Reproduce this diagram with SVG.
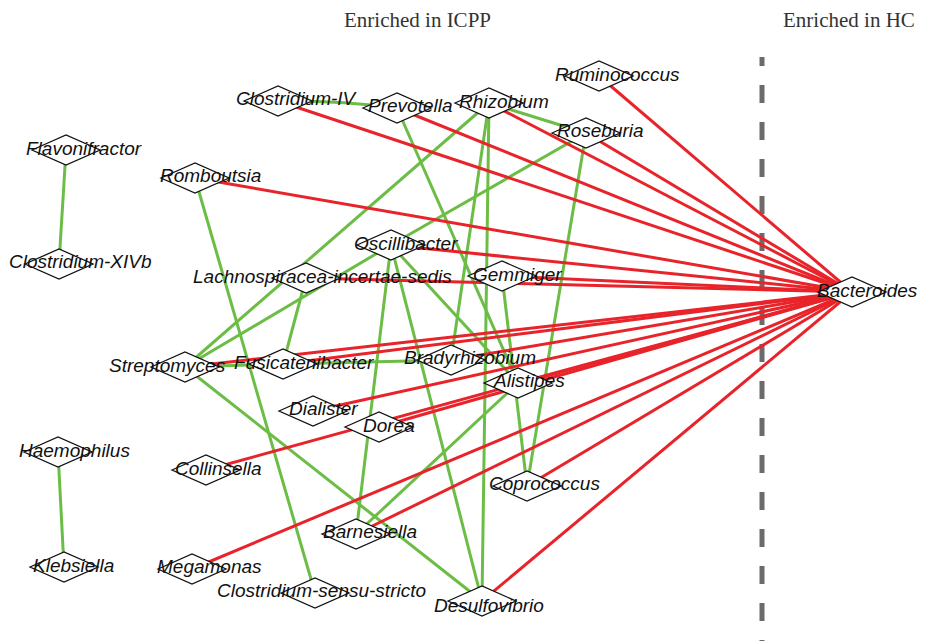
<svg xmlns="http://www.w3.org/2000/svg" xmlns:xlink="http://www.w3.org/1999/xlink" width="928" height="641" viewBox="0 0 928 641">
<style>
.hd{font-family:"Liberation Serif","Times New Roman",serif;font-size:21px;fill:#333}
.lb{font-family:"Liberation Sans",Arial,sans-serif;font-size:19px;font-style:italic;fill:#111}
.g{stroke:#6cbd45;stroke-width:3;fill:none}
.r{stroke:#e8232a;stroke-width:3;fill:none}
.dia{fill:#fff;stroke:#111;stroke-width:1.3}
</style>
<defs>
<polygon id="d" class="dia" points="-34,0 0,-15 34,0 0,15"/>
</defs>
<rect width="928" height="641" fill="#fff"/>
<text class="hd" x="344" y="27">Enriched in ICPP</text>
<text class="hd" x="783" y="27">Enriched in HC</text>
<line x1="762" y1="57" x2="762" y2="641" stroke="#6b6b6b" stroke-width="5" stroke-dasharray="18 19" stroke-dashoffset="9"/>
<g id="connectors">
<line class="g" x1="66" y1="150" x2="59" y2="264"/>
<line class="g" x1="58" y1="452" x2="64" y2="567"/>
<path class="g" d="M278,101 Q338,100 397,108"/>
<line class="g" x1="195" y1="178" x2="315" y2="593"/>
<line class="g" x1="397" y1="108" x2="518" y2="383"/>
<line class="g" x1="489" y1="103" x2="185" y2="367"/>
<line class="g" x1="489" y1="103" x2="586" y2="133"/>
<line class="g" x1="489" y1="103" x2="451" y2="360"/>
<line class="g" x1="489" y1="103" x2="482" y2="601"/>
<line class="g" x1="586" y1="133" x2="391" y2="245"/>
<line class="g" x1="391" y1="245" x2="185" y2="367"/>
<line class="g" x1="586" y1="133" x2="527" y2="486"/>
<line class="g" x1="391" y1="245" x2="356" y2="534"/>
<line class="g" x1="391" y1="245" x2="482" y2="601"/>
<line class="g" x1="391" y1="245" x2="518" y2="383"/>
<line class="g" x1="306" y1="278" x2="283" y2="364"/>
<line class="g" x1="185" y1="367" x2="283" y2="364"/>
<line class="g" x1="283" y1="364" x2="451" y2="360"/>
<line class="g" x1="185" y1="367" x2="482" y2="601"/>
<line class="g" x1="502" y1="276" x2="527" y2="486"/>
<line class="g" x1="518" y1="383" x2="356" y2="534"/>
<line class="r" x1="599" y1="76" x2="852" y2="292"/>
<line class="r" x1="278" y1="101" x2="852" y2="292"/>
<line class="r" x1="397" y1="108" x2="852" y2="292"/>
<line class="r" x1="489" y1="103" x2="852" y2="292"/>
<line class="r" x1="586" y1="133" x2="852" y2="292"/>
<line class="r" x1="195" y1="178" x2="852" y2="292"/>
<line class="r" x1="391" y1="245" x2="852" y2="292"/>
<line class="r" x1="306" y1="278" x2="852" y2="292"/>
<line class="r" x1="502" y1="276" x2="852" y2="292"/>
<line class="r" x1="185" y1="367" x2="852" y2="292"/>
<line class="r" x1="283" y1="364" x2="852" y2="292"/>
<line class="r" x1="451" y1="360" x2="852" y2="292"/>
<line class="r" x1="518" y1="383" x2="852" y2="292"/>
<line class="r" x1="313" y1="411" x2="852" y2="292"/>
<line class="r" x1="379" y1="427" x2="852" y2="292"/>
<line class="r" x1="206" y1="470" x2="852" y2="292"/>
<line class="r" x1="356" y1="534" x2="852" y2="292"/>
<line class="r" x1="192" y1="569" x2="852" y2="292"/>
<line class="r" x1="527" y1="486" x2="852" y2="292"/>
<line class="r" x1="482" y1="601" x2="852" y2="292"/>
</g>
<g id="Flavonifractor"><use href="#d" x="66" y="150"/><text class="lb" x="26" y="155">Flavonifractor</text></g>
<g id="Clostridium-XIVb"><use href="#d" x="59" y="264"/><text class="lb" x="9" y="268">Clostridium-XIVb</text></g>
<g id="Romboutsia"><use href="#d" x="195" y="178"/><text class="lb" x="160" y="182">Romboutsia</text></g>
<g id="Clostridium-IV"><use href="#d" x="278" y="101"/><text class="lb" x="236" y="105">Clostridium-IV</text></g>
<g id="Prevotella"><use href="#d" x="397" y="108"/><text class="lb" x="368" y="112">Prevotella</text></g>
<g id="Rhizobium"><use href="#d" x="489" y="103"/><text class="lb" x="459" y="108">Rhizobium</text></g>
<g id="Ruminococcus"><use href="#d" x="599" y="76"/><text class="lb" x="555" y="81">Ruminococcus</text></g>
<g id="Roseburia"><use href="#d" x="586" y="133"/><text class="lb" x="557" y="137">Roseburia</text></g>
<g id="Oscillibacter"><use href="#d" x="391" y="245"/><text class="lb" x="354" y="250">Oscillibacter</text></g>
<g id="Lachnospiracea-incertae-sedis"><use href="#d" x="306" y="278"/><text class="lb" x="193" y="283">Lachnospiracea-incertae-sedis</text></g>
<g id="Gemmiger"><use href="#d" x="502" y="276"/><text class="lb" x="473" y="281">Gemmiger</text></g>
<g id="Bacteroides"><use href="#d" x="852" y="292"/><text class="lb" x="817" y="297">Bacteroides</text></g>
<g id="Streptomyces"><use href="#d" x="185" y="367"/><text class="lb" x="109" y="372">Streptomyces</text></g>
<g id="Fusicatenibacter"><use href="#d" x="283" y="364"/><text class="lb" x="234" y="369">Fusicatenibacter</text></g>
<g id="Bradyrhizobium"><use href="#d" x="451" y="360"/><text class="lb" x="404" y="364">Bradyrhizobium</text></g>
<g id="Alistipes"><use href="#d" x="518" y="383"/><text class="lb" x="494" y="387">Alistipes</text></g>
<g id="Dialister"><use href="#d" x="313" y="411"/><text class="lb" x="289" y="415">Dialister</text></g>
<g id="Dorea"><use href="#d" x="379" y="427"/><text class="lb" x="363" y="432">Dorea</text></g>
<g id="Haemophilus"><use href="#d" x="58" y="452"/><text class="lb" x="19" y="457">Haemophilus</text></g>
<g id="Collinsella"><use href="#d" x="206" y="470"/><text class="lb" x="175" y="475">Collinsella</text></g>
<g id="Coprococcus"><use href="#d" x="527" y="486"/><text class="lb" x="489" y="490">Coprococcus</text></g>
<g id="Barnesiella"><use href="#d" x="356" y="534"/><text class="lb" x="323" y="538">Barnesiella</text></g>
<g id="Klebsiella"><use href="#d" x="64" y="567"/><text class="lb" x="33" y="572">Klebsiella</text></g>
<g id="Megamonas"><use href="#d" x="192" y="569"/><text class="lb" x="157" y="573">Megamonas</text></g>
<g id="Clostridium-sensu-stricto"><use href="#d" x="315" y="593"/><text class="lb" x="217" y="597">Clostridium-sensu-stricto</text></g>
<g id="Desulfovibrio"><use href="#d" x="482" y="601"/><text class="lb" x="434" y="612">Desulfovibrio</text></g>
</svg>
